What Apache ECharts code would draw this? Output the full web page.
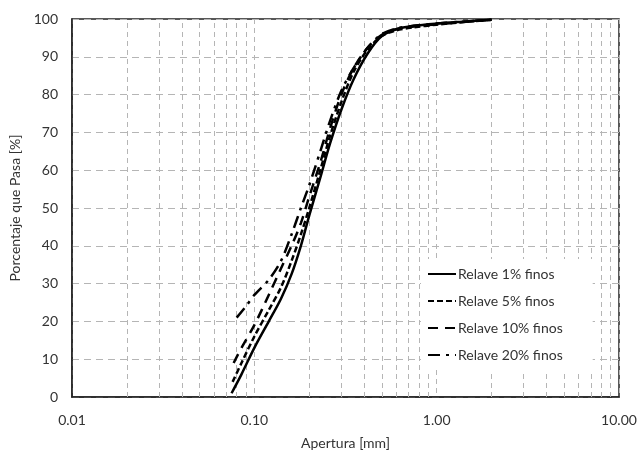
<!DOCTYPE html>
<html>
<head>
<meta charset="utf-8">
<script src="https://cdn.jsdelivr.net/npm/echarts@6/dist/echarts.min.js"></script>
<style>
html,body{margin:0;padding:0;background:#fff;}
#c{width:641px;height:455px;}
</style>
</head>
<body>
<div id="c"></div>
<script>
const seriesNames = ['Relave 1% finos', 'Relave 5% finos', 'Relave 10% finos', 'Relave 20% finos'];

const x1 = [0.075, 0.085, 0.1, 0.12, 0.14, 0.16, 0.18, 0.2, 0.23, 0.26, 0.3, 0.35, 0.42, 0.5, 0.6, 0.75, 1.0, 1.4, 2.0];
const y1 = [1, 6, 13, 20, 26, 32.5, 40, 48, 58, 67, 76, 84, 91, 95.5, 97.3, 98.2, 98.8, 99.3, 99.8];

const x5 = [0.076, 0.085, 0.1, 0.12, 0.14, 0.16, 0.18, 0.2, 0.23, 0.26, 0.3, 0.35, 0.42, 0.5, 0.6, 0.75, 1.0, 1.4, 2.0];
const y5 = [4, 9, 16, 23, 29, 36, 43, 50, 60, 69, 78, 86, 92, 95.5, 97, 97.8, 98.5, 99.2, 99.8];

const x10 = [0.077, 0.085, 0.1, 0.12, 0.14, 0.16, 0.18, 0.2, 0.23, 0.26, 0.3, 0.35, 0.42, 0.5, 0.6, 0.75, 1.0, 1.4, 2.0];
const y10 = [9, 13, 19, 27, 34, 40, 46, 53, 62, 71, 80, 87, 92.5, 95.8, 97.3, 98, 98.6, 99.2, 99.8];

const x20 = [0.08, 0.09, 0.1, 0.12, 0.14, 0.16, 0.18, 0.2, 0.23, 0.26, 0.3, 0.35, 0.42, 0.5, 0.6, 0.75, 1.0, 1.4, 2.0];
const y20 = [21, 24, 27, 31, 36, 43, 50, 56, 65, 73, 81, 87, 92.5, 96, 97.5, 98.2, 98.8, 99.3, 99.8];

const minorX = [0.02,0.03,0.04,0.05,0.06,0.07,0.08,0.09,0.2,0.3,0.4,0.5,0.6,0.7,0.8,0.9,2,3,4,5,6,7,8,9];

const zip = (xs, ys) => xs.map((x, i) => [x, ys[i]]);
const dashes = [[], [6, 3], [10, 7], [12, 6, 3, 6]];
const datas = [zip(x1, y1), zip(x5, y5), zip(x10, y10), zip(x20, y20)];
const FONT = 'Lato';

const chart = echarts.init(document.getElementById('c'));
const series = seriesNames.map((n, i) => ({
  name: n,
  type: 'line',
  data: datas[i],
  smooth: 0.3,
  symbol: 'none',
  lineStyle: { color: '#000', width: 2.5, type: i === 0 ? 'solid' : dashes[i] },
  itemStyle: { color: '#000' },
  z: 5
}));
series[0].markLine = {
  silent: true,
  symbol: 'none',
  label: { show: false },
  lineStyle: { color: '#b5b5b5', width: 1, type: [5, 4] },
  data: minorX.map(v => ({ xAxis: v })),
  z: 1
};

chart.setOption({
  animation: false,
  backgroundColor: '#fff',
  textStyle: { fontFamily: FONT },
  grid: { left: 72, right: 22, top: 19, bottom: 57, show: true, borderColor: '#222', borderWidth: 1.5, backgroundColor: 'transparent' },
  legend: {
    orient: 'vertical',
    left: 421,
    top: 259,
    itemWidth: 28,
    itemHeight: 14,
    itemGap: 13,
    padding: [8, 30, 8, 6],
    backgroundColor: '#fff',
    itemStyle: { opacity: 0 },
    textStyle: { fontFamily: FONT, fontSize: 14, color: '#333', padding: [0, 0, 0, -3] },
    data: seriesNames
  },
  xAxis: {
    type: 'log',
    logBase: 10,
    min: 0.01,
    max: 10,
    name: 'Apertura [mm]',
    nameLocation: 'middle',
    nameGap: 39,
    nameTextStyle: { fontFamily: FONT, fontSize: 14, color: '#333' },
    axisLine: { lineStyle: { color: '#222', width: 1.5 } },
    axisTick: { show: false },
    axisLabel: { fontFamily: FONT, fontSize: 14, color: '#333', margin: 16, formatter: v => Number(v).toFixed(2) },
    splitLine: { show: true, lineStyle: { color: '#b5b5b5', width: 1, type: [5, 4] } }
  },
  yAxis: {
    type: 'value',
    min: 0,
    max: 100,
    interval: 10,
    name: 'Porcentaje que Pasa [%]',
    nameLocation: 'middle',
    nameGap: 50,
    nameTextStyle: { fontFamily: FONT, fontSize: 14, color: '#333' },
    axisLine: { show: true, lineStyle: { color: '#222', width: 1.5 } },
    axisTick: { show: false },
    axisLabel: { fontFamily: FONT, fontSize: 14, color: '#333', margin: 14 },
    splitLine: { show: true, lineStyle: { color: '#b5b5b5', width: 1, type: [7, 5] } }
  },
  series: series
});
</script>
</body>
</html>
